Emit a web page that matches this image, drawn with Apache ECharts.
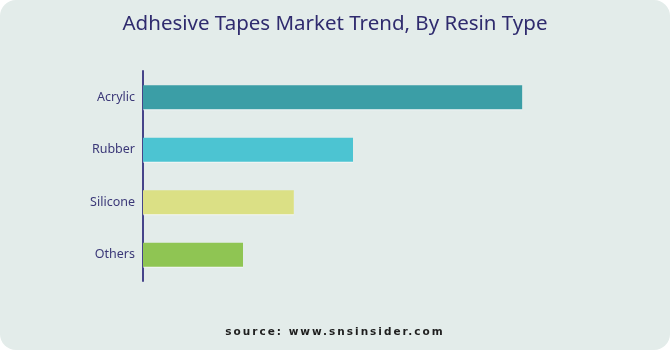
<!DOCTYPE html>
<html><head><meta charset="utf-8">
<script src="https://cdn.jsdelivr.net/npm/echarts@6/dist/echarts.min.js"></script>
<style>
html,body{margin:0;padding:0;background:#ffffff;}
#wrap{position:relative;width:670px;height:350px;background:#e3ecea;border-radius:16px;overflow:hidden;}
#chart{position:absolute;left:0;top:0;width:670px;height:350px;}
#src{position:absolute;left:0;width:670px;top:325px;text-align:center;font-family:"DejaVu Sans",sans-serif;font-weight:bold;font-size:10.5px;letter-spacing:2px;color:#1e1e1e;}
</style></head>
<body>
<div id="wrap"><div id="chart"></div><div id="src">source: www.snsinsider.com</div></div>
<script>
const categories = ["Acrylic", "Rubber", "Silicone", "Others"];
const values = [45.5, 25.2, 18.1, 12.0];
const colors = ["#3b9ea6", "#4cc4d2", "#dbe085", "#8fc553"];
const titleText = "Adhesive Tapes Market Trend, By Resin Type";

const chart = echarts.init(document.getElementById('chart'), null, {renderer:'canvas'});
chart.setOption({
  backgroundColor: 'transparent',
  animation: false,
  title: {
    text: titleText, left: 'center', top: 9,
    textStyle: {fontFamily: 'Noto Sans', fontWeight: 'normal', fontSize: 20.5, color: '#2f2b6e'}
  },
  grid: {left: 143, top: 71, width: 500, height: 210, containLabel: false},
  xAxis: {type: 'value', min: 0, max: 60, show: false},
  yAxis: {
    type: 'category', data: categories, inverse: true,
    axisLine: {show: true, lineStyle: {color: '#46448a', width: 2}},
    axisTick: {show: false},
    axisLabel: {color: '#3b3878', fontSize: 12.5, fontFamily: 'Noto Sans', margin: 8}
  },
  series: [{
    type: 'bar', barWidth: 24,
    data: values.map((v, i) => ({value: v, itemStyle: {color: colors[i]}})),
    itemStyle: {shadowColor: 'rgba(255,255,255,0.6)', shadowOffsetY: 1}
  }]
});
</script>
</body></html>
